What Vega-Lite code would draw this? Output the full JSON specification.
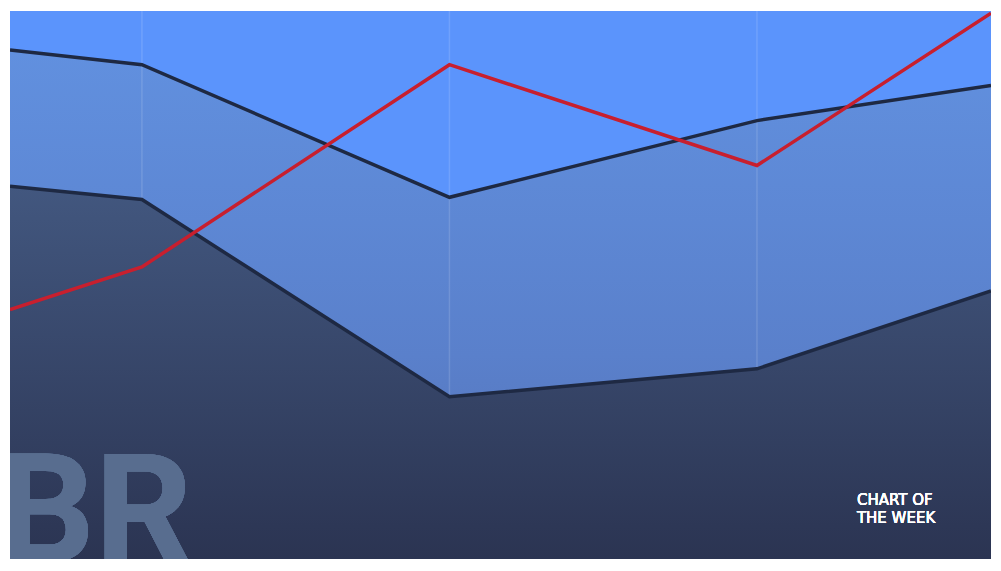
{
  "$schema": "https://vega.github.io/schema/vega-lite/v6.json",
  "width": 1001,
  "height": 571,
  "autosize": {"type": "fit", "contains": "padding"},
  "padding": {"left": 10, "top": 10, "right": 10, "bottom": 11},
  "background": "#ffffff",
  "config": {"view": {"stroke": null, "fill": "#5b94fc"}},
  "data": {
    "values": [
      {"t": 0.571, "upper": 92.9, "lower": 68.0, "red": 45.5},
      {"t": 1, "upper": 90.2, "lower": 65.6, "red": 53.3},
      {"t": 2, "upper": 66.0, "lower": 29.6, "red": 90.2},
      {"t": 3, "upper": 80.0, "lower": 34.7, "red": 71.8},
      {"t": 3.761, "upper": 86.4, "lower": 48.9, "red": 99.6}
    ]
  },
  "layer": [
    {
      "mark": {
        "type": "area",
        "clip": true,
        "color": {
          "gradient": "linear",
          "x1": 0, "y1": 0, "x2": 0, "y2": 1,
          "stops": [
            {"offset": 0, "color": "#6190df"},
            {"offset": 0.6, "color": "#5a80cb"},
            {"offset": 1, "color": "#5270b4"}
          ]
        }
      },
      "encoding": {
        "x": {"field": "t", "type": "quantitative", "scale": {"domain": [0.571, 3.761], "nice": false, "zero": false}, "axis": null},
        "y": {"field": "upper", "type": "quantitative", "scale": {"domain": [0, 100], "nice": false}, "axis": null}
      }
    },
    {
      "data": {"values": [{"g": 1}, {"g": 2}, {"g": 3}]},
      "mark": {"type": "rule", "color": "#ffffff", "opacity": 0.13, "strokeWidth": 1.5},
      "encoding": {
        "x": {"field": "g", "type": "quantitative"}
      }
    },
    {
      "mark": {
        "type": "area",
        "clip": true,
        "color": {
          "gradient": "linear",
          "x1": 0, "y1": 0, "x2": 0, "y2": 1,
          "stops": [
            {"offset": 0, "color": "#42577f"},
            {"offset": 1, "color": "#2b3452"}
          ]
        }
      },
      "encoding": {
        "x": {"field": "t", "type": "quantitative"},
        "y": {"field": "lower", "type": "quantitative"}
      }
    },
    {
      "mark": {"type": "text", "text": "BR", "font": "Roboto", "fontWeight": "bold", "fontSize": 152, "align": "left", "baseline": "alphabetic", "dx": -12, "color": "#586d8f", "clip": true},
      "encoding": {
        "x": {"datum": 0.571, "type": "quantitative"},
        "y": {"datum": -0.6, "type": "quantitative"}
      }
    },
    {
      "mark": {"type": "line", "color": "#1e2943", "strokeWidth": 3.5, "clip": true},
      "encoding": {
        "x": {"field": "t", "type": "quantitative"},
        "y": {"field": "upper", "type": "quantitative"}
      }
    },
    {
      "mark": {"type": "line", "color": "#1e2943", "strokeWidth": 3.5, "clip": true},
      "encoding": {
        "x": {"field": "t", "type": "quantitative"},
        "y": {"field": "lower", "type": "quantitative"}
      }
    },
    {
      "mark": {"type": "line", "color": "#c81f2e", "strokeWidth": 3.5, "clip": true},
      "encoding": {
        "x": {"field": "t", "type": "quantitative"},
        "y": {"field": "red", "type": "quantitative"}
      }
    },
    {
      "mark": {"type": "text", "text": ["CHART OF", "THE WEEK"], "lineHeight": 17.5, "font": "DejaVu Sans", "fontSize": 15, "fontWeight": "normal", "align": "left", "baseline": "alphabetic", "color": "#ffffff"},
      "encoding": {
        "x": {"datum": 3.325, "type": "quantitative"},
        "y": {"datum": 9.8, "type": "quantitative"}
      }
    }
  ]
}
